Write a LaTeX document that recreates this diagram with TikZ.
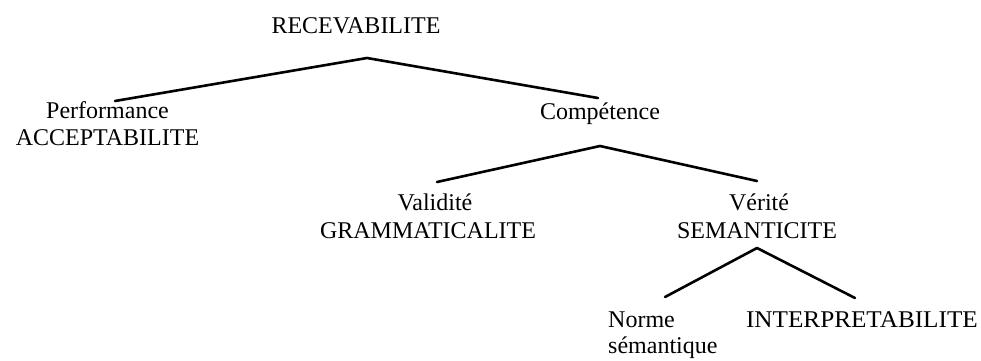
\documentclass[tikz,border=0pt]{standalone}
\usepackage{fontspec}
\setmainfont{Liberation Serif}
\begin{document}
\begin{tikzpicture}[x=1pt,y=-1pt,
  lbl/.style={inner sep=0pt, anchor=base, font=\fontsize{24}{27}\selectfont},
  branch/.style={line width=2.6pt, line cap=round, line join=round}]
\useasboundingbox (0,0) rectangle (981,360);
% labels
\node[lbl] (rec) at (356,33) {RECEVABILITE};
\node[lbl] (perf) at (107.5,118) {Performance};
\node[lbl] (acc) at (107.5,145) {ACCEPTABILITE};
\node[lbl] (comp) at (600,119) {Compétence};
\node[lbl] (val) at (435,210) {Validité};
\node[lbl] (gram) at (428,238) {GRAMMATICALITE};
\node[lbl] (ver) at (759,210) {Vérité};
\node[lbl] (sem) at (757,238) {SEMANTICITE};
\node[lbl, anchor=base west] (norme) at (608,327) {Norme};
\node[lbl, anchor=base west] (semq) at (608,353) {sémantique};
\node[lbl, anchor=base east] (interp) at (978,327) {\scalebox{1.05}[1]{INTERPRETABILITE}};
% branch points
\coordinate (p1) at (367,58);
\coordinate (l1) at (115,101);
\coordinate (r1) at (598,98);
\coordinate (p2) at (600,146);
\coordinate (l2) at (437,182);
\coordinate (r2) at (757,181);
\coordinate (p3) at (757,248);
\coordinate (l3) at (665,297);
\coordinate (r3) at (855,298);
% branches
\draw[branch] (l1) -- (p1) -- (r1);
\draw[branch] (l2) -- (p2) -- (r2);
\draw[branch] (l3) -- (p3) -- (r3);
\end{tikzpicture}
\end{document}
